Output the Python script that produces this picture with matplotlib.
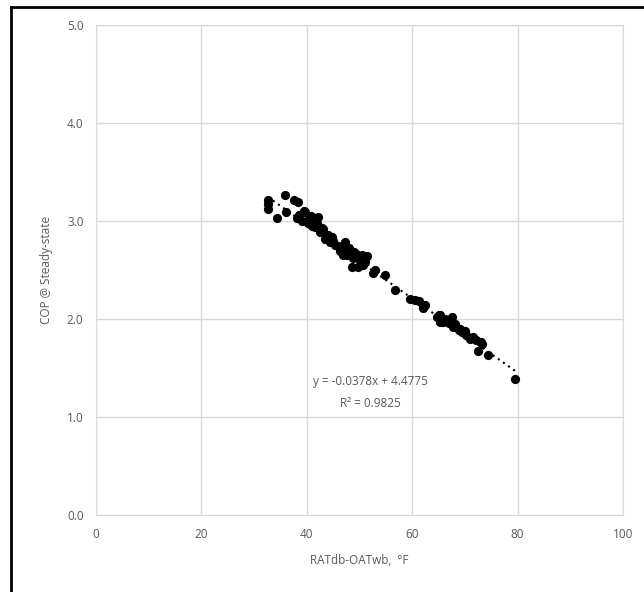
import numpy as np
import matplotlib
matplotlib.use("Agg")
import matplotlib.pyplot as plt
from matplotlib.lines import Line2D

# data
x_vals = [32.7, 32.7, 32.6, 34.3, 35.9, 36.1, 37.6, 38.3, 38.1, 38.5, 39.7, 40.3,
          41.2, 42.2, 41.6, 42.5, 43.5, 44.4, 45.4, 47.2, 46.3, 47.6, 48.5,
          47.2, 46.9, 48.8, 50.4, 51.4, 49.8, 50.7, 52.6, 54.8, 56.7, 59.6,
          61.2, 62.1, 65.0, 65.3, 62.1, 65.3, 67.5, 65.9, 66.9, 67.8, 68.8,
          69.4, 70.3, 71.0, 72.2, 73.2, 72.5, 74.4, 79.5,
          39.0, 40.8, 41.0, 42.0, 43.0, 44.0, 45.0, 46.0, 48.0, 49.0, 50.0,
          51.0, 53.0, 60.5, 62.5, 66.2, 68.2, 70.0, 71.5, 73.0, 39.5, 41.8,
          40.5, 42.8, 44.8, 46.6, 49.3, 50.2, 64.8, 67.0, 69.0]
y_vals = [3.21, 3.12, 3.17, 3.03, 3.27, 3.09, 3.21, 3.19, 3.03, 3.06, 3.09, 2.98,
          3.01, 3.04, 2.94, 2.89, 2.82, 2.79, 2.76, 2.79, 2.69, 2.65, 2.53,
          2.76, 2.65, 2.62, 2.65, 2.64, 2.53, 2.55, 2.47, 2.45, 2.30, 2.20,
          2.18, 2.11, 2.04, 1.97, 2.13, 2.04, 2.02, 1.97, 1.96, 1.92, 1.89,
          1.87, 1.84, 1.80, 1.79, 1.75, 1.67, 1.63, 1.39,
          3.00, 3.05, 2.95, 2.98, 2.92, 2.86, 2.80, 2.74, 2.72, 2.68, 2.60,
          2.58, 2.50, 2.19, 2.14, 2.00, 1.95, 1.88, 1.82, 1.77, 3.10, 2.97,
          3.02, 2.93, 2.84, 2.71, 2.66, 2.58, 2.02, 1.99, 1.90]
slope = -0.0378
intercept = 4.4775
r2 = 0.9825

x_ticks = [0, 20, 40, 60, 80, 100]
y_ticks = [0.0, 1.0, 2.0, 3.0, 4.0, 5.0]

plt.rcParams['font.family'] = ['Open Sans', 'DejaVu Sans']
gray = '#595959'
grid = '#d9d9d9'

fig = plt.figure(figsize=(6.44, 5.92), dpi=100)
ax = fig.add_axes([96/644, 77/592, 527/644, 490/592])

ax.scatter(x_vals, y_vals, s=44, color='black', zorder=3, linewidths=0)

xs = np.array([min(x_vals), max(x_vals)])
ax.plot(xs, slope*xs + intercept, color='black', linestyle=(0, (1, 2)), linewidth=1.5, zorder=2)

ax.text(52, 1.36, "y = -0.0378x + 4.4775", ha='center', va='center', fontsize=8.5, color=gray)
ax.text(52, 1.14, f"R² = {r2}", ha='center', va='center', fontsize=8.5, color=gray)

ax.set_xlim(0, 100)
ax.set_ylim(0, 5)
ax.set_xticks(x_ticks)
ax.set_yticks(y_ticks)
ax.set_yticklabels([f"{v:.1f}" for v in y_ticks])
ax.grid(True, color=grid, linewidth=1)
ax.set_axisbelow(True)
for s in ax.spines.values():
    s.set_color(grid)
ax.tick_params(length=0, labelsize=8.5, labelcolor=gray, pad=9)
ax.set_xlabel("RATdb-OATwb,  °F", fontsize=8.5, color=gray, labelpad=10)
ax.set_ylabel("COP @ Steady-state", fontsize=8.5, color=gray, labelpad=10)

# black frame on left and top
fig.add_artist(Line2D([11/644, 11/644], [0, 1 - 7/592], transform=fig.transFigure, color='black', linewidth=2))
fig.add_artist(Line2D([11/644, 1], [1 - 7/592, 1 - 7/592], transform=fig.transFigure, color='black', linewidth=2))

fig.savefig("out.png", dpi=100)
